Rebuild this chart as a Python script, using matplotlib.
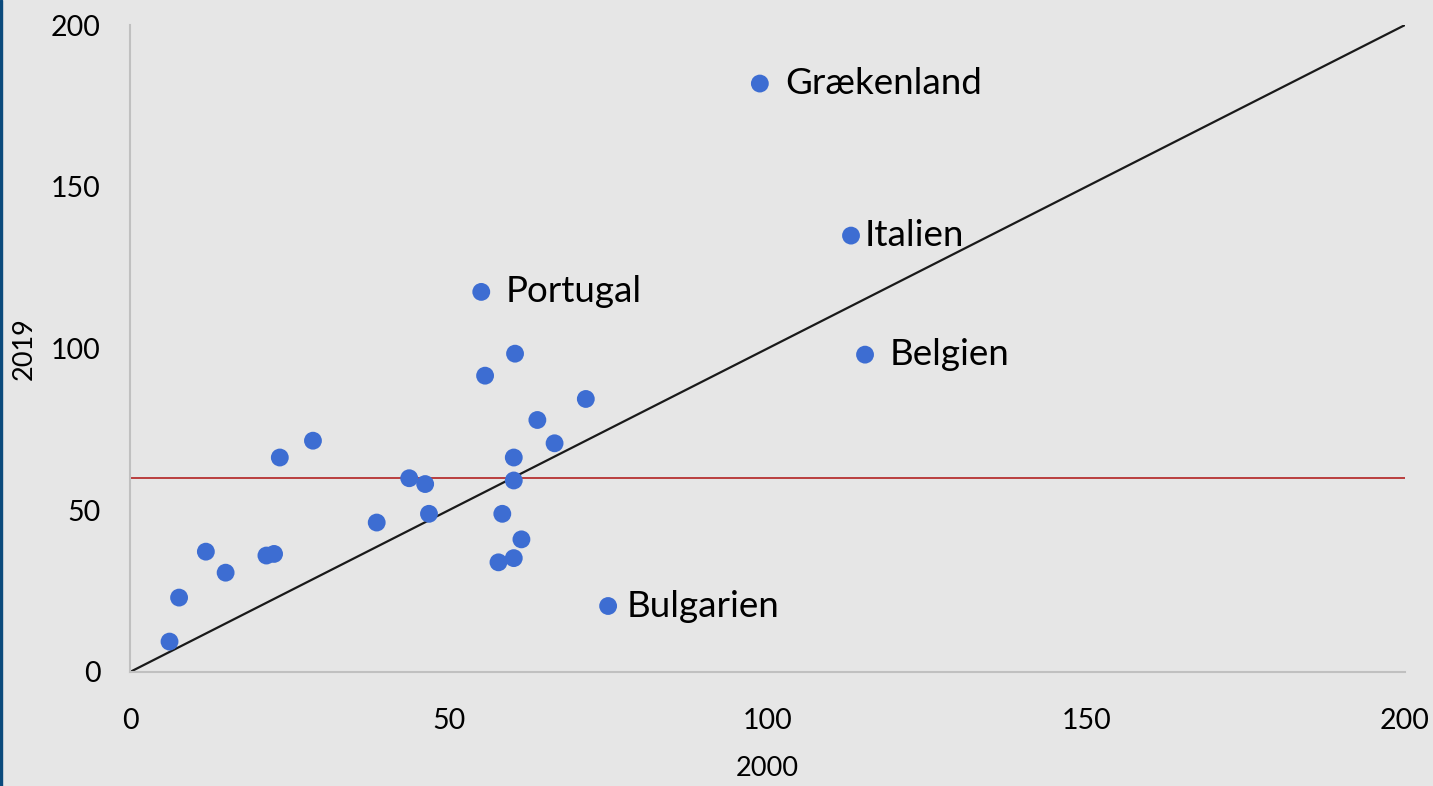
import matplotlib
matplotlib.use("Agg")
import matplotlib.pyplot as plt

# Data (x = 2000, y = 2019)
x_vals = [98.8, 113.1, 55.1, 115.3, 75.0,
          60.4, 55.7, 71.5, 63.9, 66.6, 60.2, 60.2, 43.8, 46.3, 46.9, 58.4,
          61.4, 60.2, 57.8, 38.7, 23.5, 28.7, 11.9, 21.4, 22.6, 15.0, 7.7, 6.2]
y_vals = [181.9, 134.9, 117.5, 98.1, 20.4,
          98.4, 91.6, 84.4, 77.9, 70.7, 66.3, 59.2, 59.9, 58.1, 48.9, 48.9,
          41.0, 35.2, 33.9, 46.2, 66.3, 71.5, 37.2, 36.0, 36.5, 30.7, 23.0, 9.4]
labels = ["Grækenland", "Italien", "Portugal", "Belgien", "Bulgarien"]
label_offsets_px = [25, 14, 24, 25, 18]
diag = [0, 200]
limit_value = 60
ticks = [0, 50, 100, 150, 200]

W, H = 1433, 786
bg = "#e6e6e6"
fig = plt.figure(figsize=(W / 100, H / 100), dpi=100, facecolor=bg)
plt.rcParams['font.family'] = ['Lato', 'DejaVu Sans']

ax = fig.add_axes([130 / W, (H - 672) / H, 1275 / W, 647 / H])
ax.set_facecolor(bg)
ax.set_xlim(0, 200)
ax.set_ylim(0, 200)

ax.plot(diag, diag, color="#1a1a1a", lw=1.6, zorder=2)
ax.axhline(limit_value, color="#b22222", lw=1.2, zorder=2)
ax.scatter(x_vals, y_vals, s=165, color="#3d6dd2", edgecolors="none", zorder=3)

for i, lab in enumerate(labels):
    ax.annotate(lab, (x_vals[i], y_vals[i]), xytext=(label_offsets_px[i] * 0.72, 0),
                textcoords="offset points", va="center", ha="left",
                fontsize=26.5, color="#000000")

for s in ["top", "right"]:
    ax.spines[s].set_visible(False)
for s in ["left", "bottom"]:
    ax.spines[s].set_color("#c0c0c0")
    ax.spines[s].set_linewidth(1.5)

ax.set_xticks(ticks)
ax.set_yticks(ticks)
ax.tick_params(length=0, labelsize=20.5, colors="#000000")
ax.tick_params(axis="x", pad=26)
ax.tick_params(axis="y", pad=21)
ax.set_xlabel("2000", fontsize=19.5, labelpad=16, color="#000000")
ax.set_ylabel("2019", fontsize=19.5, labelpad=10, color="#000000")

# left border strip
fig.patches.append(plt.Rectangle((0, 0), 2 / W, 1, transform=fig.transFigure,
                                 color="#0b4a7c", zorder=10))

fig.savefig("out.png", dpi=100, facecolor=bg)
